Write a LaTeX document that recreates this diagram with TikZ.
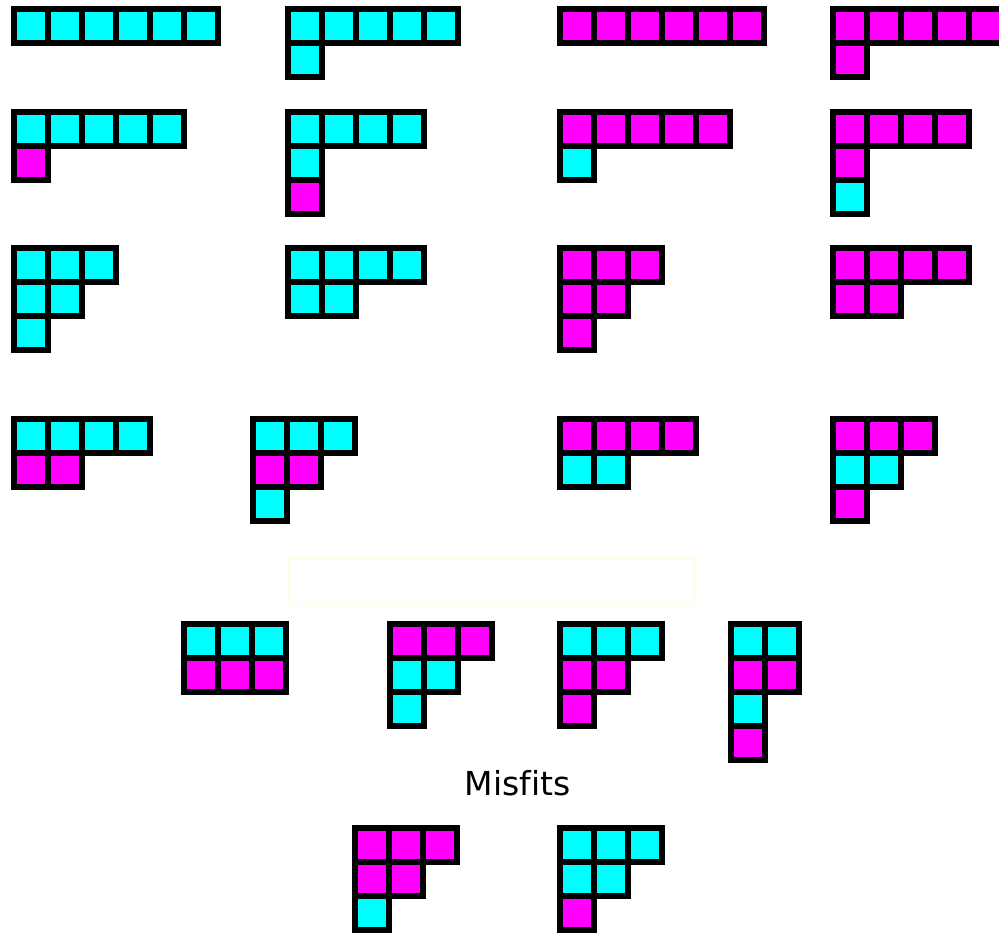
\documentclass[tikz,border=0pt]{standalone}
\usepackage{fontspec}
\setmainfont[Ligatures=NoCommon]{DejaVu Sans}
\definecolor{paleyellow}{RGB}{255,255,226}
\definecolor{cy}{RGB}{0,255,255}
\definecolor{mg}{RGB}{255,0,255}
\tikzset{cellbox/.style={draw=black,line width=6pt}}
\newcommand\ydrow[3]{%
  \foreach \c [count=\i from 0] in {#3} {%
    \draw[cellbox,fill=\c] ({#1+\i*34},{-#2}) rectangle ++(34,-34);
  }%
}
\begin{document}
\begin{tikzpicture}[x=1pt,y=1pt]
\useasboundingbox (0,0) rectangle (999,-933);
\clip (0,0) rectangle (999,-933);
% row 1
\ydrow{14}{9}{cy,cy,cy,cy,cy,cy}
\ydrow{288}{9}{cy,cy,cy,cy,cy}
\ydrow{288}{43}{cy}
\ydrow{560}{9}{mg,mg,mg,mg,mg,mg}
\ydrow{833}{9}{mg,mg,mg,mg,mg}
\ydrow{833}{43}{mg}
% row 2
\ydrow{14}{112}{cy,cy,cy,cy,cy}
\ydrow{14}{146}{mg}
\ydrow{288}{112}{cy,cy,cy,cy}
\ydrow{288}{146}{cy}
\ydrow{288}{180}{mg}
\ydrow{560}{112}{mg,mg,mg,mg,mg}
\ydrow{560}{146}{cy}
\ydrow{833}{112}{mg,mg,mg,mg}
\ydrow{833}{146}{mg}
\ydrow{833}{180}{cy}
% row 3
\ydrow{14}{248}{cy,cy,cy}
\ydrow{14}{282}{cy,cy}
\ydrow{14}{316}{cy}
\ydrow{288}{248}{cy,cy,cy,cy}
\ydrow{288}{282}{cy,cy}
\ydrow{560}{248}{mg,mg,mg}
\ydrow{560}{282}{mg,mg}
\ydrow{560}{316}{mg}
\ydrow{833}{248}{mg,mg,mg,mg}
\ydrow{833}{282}{mg,mg}
% row 4
\ydrow{14}{419}{cy,cy,cy,cy}
\ydrow{14}{453}{mg,mg}
\ydrow{253}{419}{cy,cy,cy}
\ydrow{253}{453}{mg,mg}
\ydrow{253}{487}{cy}
\ydrow{560}{419}{mg,mg,mg,mg}
\ydrow{560}{453}{cy,cy}
\ydrow{833}{419}{mg,mg,mg}
\ydrow{833}{453}{cy,cy}
\ydrow{833}{487}{mg}
% pale frame
\draw[paleyellow,line width=2pt] (289,-559) rectangle (694,-603);
% row 5
\ydrow{184}{624}{cy,cy,cy}
\ydrow{184}{658}{mg,mg,mg}
\ydrow{390}{624}{mg,mg,mg}
\ydrow{390}{658}{cy,cy}
\ydrow{390}{692}{cy}
\ydrow{560}{624}{cy,cy,cy}
\ydrow{560}{658}{mg,mg}
\ydrow{560}{692}{mg}
\ydrow{731}{624}{cy,cy}
\ydrow{731}{658}{mg,mg}
\ydrow{731}{692}{cy}
\ydrow{731}{726}{mg}
% label
\node[anchor=base,inner sep=0pt,font=\fontsize{33}{40}\selectfont] (misfits) at (517.5,-795) {Misfits};
% row 6
\ydrow{355}{828}{mg,mg,mg}
\ydrow{355}{862}{mg,mg}
\ydrow{355}{896}{cy}
\ydrow{560}{828}{cy,cy,cy}
\ydrow{560}{862}{cy,cy}
\ydrow{560}{896}{mg}
\end{tikzpicture}
\end{document}
